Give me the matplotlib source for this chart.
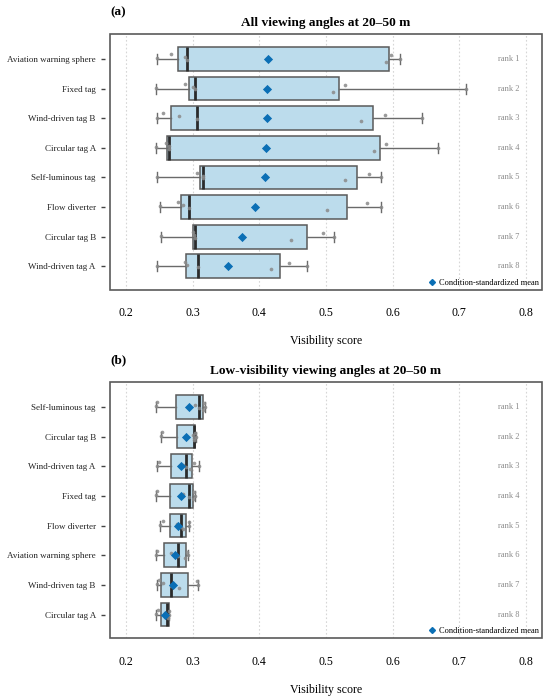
import numpy as np
import matplotlib
matplotlib.use("Agg")
import matplotlib.pyplot as plt
from matplotlib.patches import Rectangle
from matplotlib.lines import Line2D

plt.rcParams['font.family'] = ['Liberation Serif', 'DejaVu Serif']

# panel (a): all viewing angles, 7 condition values per marker, ranked by mean
tags_a = ["Aviation warning sphere", "Fixed tag", "Wind-driven tag B", "Circular tag A",
          "Self-luminous tag", "Flow diverter", "Circular tag B", "Wind-driven tag A"]
scores_a = [
    [0.246, 0.267, 0.288, 0.292, 0.590, 0.598, 0.612],
    [0.245, 0.288, 0.300, 0.303, 0.511, 0.529, 0.710],
    [0.247, 0.256, 0.279, 0.307, 0.553, 0.588, 0.644],
    [0.245, 0.260, 0.264, 0.265, 0.572, 0.590, 0.668],
    [0.247, 0.306, 0.315, 0.316, 0.529, 0.565, 0.583],
    [0.251, 0.278, 0.286, 0.294, 0.501, 0.562, 0.583],
    [0.252, 0.300, 0.302, 0.304, 0.448, 0.496, 0.512],
    [0.247, 0.288, 0.292, 0.308, 0.417, 0.445, 0.472],
]
means_a = [0.413, 0.412, 0.411, 0.410, 0.408, 0.394, 0.374, 0.353]

# panel (b): low-visibility viewing angles
tags_b = ["Self-luminous tag", "Circular tag B", "Wind-driven tag A", "Fixed tag",
          "Flow diverter", "Aviation warning sphere", "Wind-driven tag B", "Circular tag A"]
scores_b = [
    [0.2455, 0.247, 0.303, 0.310, 0.315, 0.317, 0.318],
    [0.253, 0.254, 0.300, 0.302, 0.302, 0.304, 0.305],
    [0.246, 0.250, 0.286, 0.290, 0.296, 0.302, 0.309],
    [0.2445, 0.246, 0.286, 0.294, 0.300, 0.302, 0.303],
    [0.251, 0.255, 0.277, 0.283, 0.286, 0.294, 0.295],
    [0.2455, 0.247, 0.267, 0.278, 0.289, 0.292, 0.293],
    [0.247, 0.249, 0.255, 0.267, 0.280, 0.306, 0.308],
    [0.2455, 0.248, 0.258, 0.262, 0.263, 0.265, 0.265],
]
means_b = [0.295, 0.290, 0.283, 0.283, 0.278, 0.273, 0.271, 0.259]

xticks = [0.2, 0.3, 0.4, 0.5, 0.6, 0.7, 0.8]
JITTER = [-0.02, -0.16, -0.06, 0.03, 0.1, -0.12, 0.0]

BOX_FILL = "#bcdcec"
MEAN_COL = "#0b6fb5"
EDGE = "#5a5a5a"

fig = plt.figure(figsize=(5.5, 6.99), dpi=100)
ax_a = fig.add_axes([0.2, 0.5851, 0.785, 0.3658])
ax_b = fig.add_axes([0.2, 0.0868, 0.785, 0.3662])


def draw_panel(ax, tags, scores, means, title, letter):
    # detach the y ticks from the frame first (this resets the tick objects)
    for s in ax.spines.values():
        s.set_visible(False)
    ax.spines['left'].set_position(('outward', 3.3))

    pos = np.arange(1, len(tags) + 1)
    ax.boxplot(scores, positions=pos, orientation='horizontal', widths=0.8,
               whis=(0, 100), patch_artist=True, showfliers=False, capwidths=0.34,
               boxprops=dict(facecolor=BOX_FILL, edgecolor=EDGE, linewidth=1.1),
               medianprops=dict(color="#2b2b2b", linewidth=2.0),
               whiskerprops=dict(color="#6a6a6a", linewidth=1.0),
               capprops=dict(color="#6a6a6a", linewidth=1.0),
               zorder=2)
    for i, vals in enumerate(scores):
        ys = pos[i] + np.array(JITTER[:len(vals)])
        ax.scatter(vals, ys, s=7, color="#8a8a8a", alpha=0.85, zorder=3, linewidths=0)
    ax.scatter(means, pos, marker='D', s=22, color=MEAN_COL, zorder=4, linewidths=0)
    for i in range(len(tags)):
        ax.text(0.774, pos[i], f"rank {i + 1}", fontsize=6, color="#8a8a8a",
                ha='center', va='center')

    ax.set_xlim(0.176, 0.824)
    ax.set_ylim(8.8, 0.17)
    ax.set_yticks(pos)
    ax.set_yticklabels(tags)
    ax.set_xticks(xticks)
    ax.set_xticklabels([f"{t:.1f}" for t in xticks])
    ax.tick_params(axis='x', length=0, pad=12.5, labelsize=8.6)
    ax.tick_params(axis='y', length=2.6, width=1.0, color="#444444", pad=4.3,
                   labelsize=6.5, labelcolor="#222222")
    ax.set_xlabel("Visibility score", fontsize=8.6, labelpad=11.5)
    ax.grid(axis='x', linestyle=(0, (1.5, 2)), color="#d6d6d6", linewidth=0.8, zorder=0)
    ax.set_axisbelow(True)

    ax.add_patch(Rectangle((0, 0), 1, 1, transform=ax.transAxes, fill=False,
                           edgecolor=EDGE, linewidth=1.2, clip_on=False, zorder=5))

    ax.set_title(title, fontsize=9.6, fontweight='bold', pad=6)
    ax.text(0.0, 1.062, letter, transform=ax.transAxes, fontsize=9.5,
            fontweight='bold', ha='left', va='bottom')

    handle = Line2D([], [], marker='D', linestyle='none', color=MEAN_COL, markersize=3)
    ax.legend([handle], ["Condition-standardized mean"], loc='lower right', frameon=False,
              fontsize=6, handletextpad=0.3, borderaxespad=0.15, borderpad=0.2,
              handlelength=1.0)


draw_panel(ax_a, tags_a, scores_a, means_a, "All viewing angles at 20\u201350 m", "(a)")
draw_panel(ax_b, tags_b, scores_b, means_b, "Low-visibility viewing angles at 20\u201350 m", "(b)")

fig.savefig("out.png", dpi=100)
